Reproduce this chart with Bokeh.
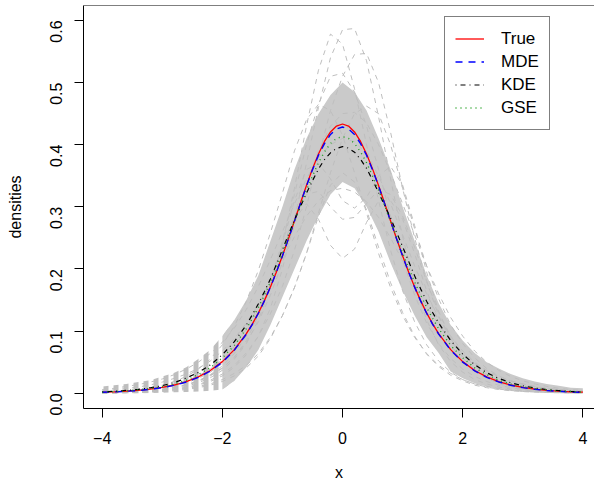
from bokeh.plotting import figure
from bokeh.models import Range1d, Legend, LegendItem, Span, FixedTicker
from bokeh.embed import file_html
from bokeh.resources import INLINE
import math

# grid of evaluation points for the simulated (gray) estimates
xs = [-4.0, -3.8, -3.6, -3.4, -3.2, -3.0, -2.8, -2.6, -2.4, -2.2, -2.0, -1.8, -1.6, -1.4, -1.2,
      -1.0, -0.8, -0.6, -0.4, -0.2, 0.0, 0.2, 0.4, 0.6, 0.8, 1.0, 1.2, 1.4, 1.6, 1.8, 2.0, 2.2,
      2.4, 2.6, 2.8, 3.0, 3.2, 3.4, 3.6, 3.8, 4.0]
# finer grid for the four highlighted curves
xs_main = [-4.0, -3.8, -3.6, -3.4, -3.2, -3.0, -2.8, -2.6, -2.4, -2.2, -2.0, -1.8, -1.6,
           -1.5, -1.4, -1.3, -1.2, -1.1, -1.0, -0.9, -0.8, -0.7, -0.6, -0.5, -0.4, -0.3, -0.2,
           -0.1, 0.0, 0.1, 0.2, 0.3, 0.4, 0.5, 0.6, 0.7, 0.8, 0.9, 1.0, 1.1, 1.2, 1.3, 1.4, 1.5,
           1.6, 1.8, 2.0, 2.2, 2.4, 2.6, 2.8, 3.0, 3.2, 3.4, 3.6, 3.8, 4.0]

true_d = [0.0017, 0.0024, 0.0034, 0.0048, 0.0067, 0.0095, 0.0133, 0.0187, 0.0263, 0.0367, 0.0509,
          0.0702, 0.0959,
          0.1116, 0.1293, 0.1491, 0.1712, 0.1953, 0.2212, 0.2487, 0.2773, 0.3061, 0.3344, 0.3611,
          0.3851, 0.4053, 0.4205, 0.4300, 0.4333, 0.4300, 0.4205, 0.4053, 0.3851, 0.3611, 0.3344,
          0.3061, 0.2773, 0.2487, 0.2212, 0.1953, 0.1712, 0.1491, 0.1293, 0.1116,
          0.0959, 0.0702, 0.0509, 0.0367, 0.0263, 0.0187, 0.0133, 0.0095, 0.0067, 0.0048, 0.0034,
          0.0024, 0.0017]
mde = [0.0016, 0.0022, 0.0032, 0.0045, 0.0064, 0.0091, 0.0128, 0.0181, 0.0256, 0.0358, 0.0500,
       0.0694, 0.0952,
       0.1110, 0.1288, 0.1487, 0.1708, 0.1950, 0.2210, 0.2485, 0.2770, 0.3055, 0.3335, 0.3595,
       0.3830, 0.4018, 0.4165, 0.4253, 0.4285, 0.4253, 0.4165, 0.4018, 0.3830, 0.3595, 0.3335,
       0.3055, 0.2770, 0.2485, 0.2210, 0.1950, 0.1708, 0.1487, 0.1288, 0.1110,
       0.0952, 0.0695, 0.0502, 0.0360, 0.0257, 0.0182, 0.0129, 0.0091, 0.0064, 0.0045, 0.0032,
       0.0022, 0.0016]
kde = [0.0024, 0.0033, 0.0046, 0.0063, 0.0088, 0.0123, 0.0172, 0.0245, 0.0335, 0.0455, 0.0620,
       0.0830, 0.1100,
       0.1265, 0.1440, 0.1635, 0.1840, 0.2075, 0.2310, 0.2550, 0.2790, 0.3005, 0.3220, 0.3420,
       0.3610, 0.3760, 0.3870, 0.3940, 0.3970, 0.3945, 0.3880, 0.3765, 0.3620, 0.3430, 0.3230,
       0.3025, 0.2820, 0.2590, 0.2360, 0.2125, 0.1890, 0.1680, 0.1480, 0.1300,
       0.1130, 0.0850, 0.0630, 0.0460, 0.0330, 0.0240, 0.0170, 0.0120, 0.0085, 0.0060, 0.0043,
       0.0030, 0.0022]
gse = [0.0019, 0.0027, 0.0038, 0.0053, 0.0075, 0.0105, 0.0150, 0.0210, 0.0300, 0.0410, 0.0570,
       0.0770, 0.1040,
       0.1205, 0.1380, 0.1580, 0.1790, 0.2015, 0.2260, 0.2515, 0.2770, 0.3020, 0.3270, 0.3495,
       0.3710, 0.3885, 0.4020, 0.4102, 0.4130, 0.4102, 0.4020, 0.3885, 0.3710, 0.3495, 0.3270,
       0.3020, 0.2770, 0.2515, 0.2260, 0.2015, 0.1790, 0.1580, 0.1380, 0.1205,
       0.1040, 0.0770, 0.0570, 0.0410, 0.0300, 0.0210, 0.0150, 0.0105, 0.0075, 0.0053, 0.0038,
       0.0027, 0.0019]

# dense part of the simulated (gray) estimates: lower / upper envelope
band_lo = [0.0, 0.0, 0.0, 0.0, 0.0005, 0.001, 0.0015, 0.002, 0.003, 0.004, 0.006, 0.020, 0.042,
           0.070, 0.110, 0.155, 0.200, 0.245, 0.285, 0.320, 0.340, 0.330, 0.300, 0.260, 0.210,
           0.165, 0.125, 0.090, 0.065, 0.035, 0.024, 0.016, 0.011, 0.007, 0.005, 0.003, 0.002,
           0.0015, 0.001, 0.0007, 0.0005]
band_hi = [0.011, 0.013, 0.015, 0.018, 0.021, 0.027, 0.033, 0.042, 0.055, 0.070, 0.092, 0.118,
           0.150, 0.190, 0.245, 0.300, 0.360, 0.410, 0.450, 0.480, 0.500, 0.485, 0.455, 0.410,
           0.360, 0.300, 0.245, 0.190, 0.145, 0.110, 0.085, 0.065, 0.050, 0.040, 0.031, 0.024,
           0.019, 0.015, 0.012, 0.009, 0.008]

# individual simulated estimates drawn as dashed lines
sim1 = [0.001, 0.0015, 0.002, 0.003, 0.0045, 0.0065, 0.009, 0.013, 0.019, 0.028, 0.040, 0.058,
        0.085, 0.125, 0.175, 0.230, 0.280, 0.305, 0.280, 0.238, 0.217, 0.232, 0.275, 0.310, 0.310,
        0.280, 0.225, 0.165, 0.115, 0.078, 0.052, 0.035, 0.024, 0.016, 0.011, 0.0075, 0.005,
        0.0035, 0.0025, 0.0017, 0.0012]
sim2 = [0.0005, 0.0008, 0.0012, 0.0018, 0.0027, 0.004, 0.006, 0.009, 0.013, 0.019, 0.028, 0.042,
        0.062, 0.092, 0.137, 0.200, 0.280, 0.370, 0.460, 0.540, 0.585, 0.587, 0.535, 0.445, 0.345,
        0.252, 0.175, 0.118, 0.078, 0.051, 0.034, 0.022, 0.015, 0.010, 0.0068, 0.0046, 0.0031,
        0.0021, 0.0014, 0.001, 0.0007]
sim3 = [0.0007, 0.001, 0.0015, 0.0022, 0.0033, 0.005, 0.0075, 0.011, 0.017, 0.025, 0.037, 0.055,
        0.080, 0.118, 0.170, 0.240, 0.330, 0.430, 0.520, 0.578, 0.562, 0.490, 0.400, 0.310, 0.230,
        0.165, 0.115, 0.078, 0.052, 0.034, 0.022, 0.015, 0.010, 0.0067, 0.0045, 0.003, 0.002,
        0.0014, 0.0009, 0.0006, 0.0004]
sim4 = [0.0006, 0.0009, 0.0013, 0.0019, 0.0028, 0.0042, 0.0063, 0.0094, 0.014, 0.021, 0.031,
        0.045, 0.065, 0.092, 0.128, 0.172, 0.230, 0.300, 0.380, 0.455, 0.510, 0.545, 0.547, 0.500,
        0.420, 0.330, 0.250, 0.180, 0.125, 0.085, 0.057, 0.038, 0.025, 0.017, 0.011, 0.0075,
        0.005, 0.0034, 0.0023, 0.0016, 0.0011]
sim5 = [0.004, 0.0055, 0.0075, 0.010, 0.0135, 0.018, 0.024, 0.031, 0.040, 0.052, 0.068, 0.088,
        0.113, 0.143, 0.178, 0.215, 0.252, 0.285, 0.310, 0.326, 0.330, 0.324, 0.308, 0.283, 0.250,
        0.213, 0.176, 0.141, 0.110, 0.085, 0.064, 0.048, 0.036, 0.027, 0.020, 0.015, 0.011,
        0.008, 0.006, 0.0045, 0.0033]
sim6 = [0.002, 0.003, 0.004, 0.0055, 0.0075, 0.0105, 0.0145, 0.020, 0.028, 0.039, 0.054, 0.075,
        0.103, 0.140, 0.185, 0.235, 0.285, 0.320, 0.325, 0.300, 0.280, 0.283, 0.305, 0.328, 0.320,
        0.285, 0.235, 0.180, 0.130, 0.092, 0.064, 0.044, 0.030, 0.021, 0.0145, 0.010, 0.007,
        0.005, 0.0035, 0.0025, 0.0018]
sim7 = [0.006, 0.008, 0.011, 0.014, 0.018, 0.023, 0.030, 0.039, 0.050, 0.064, 0.082, 0.105,
        0.135, 0.172, 0.215, 0.260, 0.305, 0.345, 0.380, 0.400, 0.410, 0.405, 0.385, 0.350, 0.305,
        0.255, 0.205, 0.160, 0.122, 0.092, 0.068, 0.050, 0.037, 0.027, 0.020, 0.015, 0.011,
        0.008, 0.006, 0.0045, 0.0035]
sim8 = [0.001, 0.0015, 0.002, 0.003, 0.0045, 0.0065, 0.0095, 0.014, 0.020, 0.029, 0.041, 0.058,
        0.082, 0.115, 0.158, 0.210, 0.270, 0.335, 0.390, 0.430, 0.450, 0.452, 0.435, 0.400, 0.355,
        0.305, 0.255, 0.205, 0.160, 0.122, 0.092, 0.068, 0.050, 0.037, 0.027, 0.020, 0.015,
        0.011, 0.008, 0.006, 0.0045]
sim9 = [0.0008, 0.0012, 0.0018, 0.0027, 0.004, 0.006, 0.009, 0.0135, 0.020, 0.030, 0.044, 0.064,
        0.092, 0.130, 0.180, 0.245, 0.320, 0.400, 0.465, 0.510, 0.515, 0.485, 0.430, 0.360, 0.285,
        0.215, 0.158, 0.113, 0.080, 0.056, 0.039, 0.027, 0.019, 0.013, 0.009, 0.0063, 0.0044,
        0.003, 0.0021, 0.0015, 0.001]
sim10 = [0.0003, 0.0005, 0.0008, 0.0012, 0.0018, 0.0027, 0.004, 0.006, 0.009, 0.013, 0.019, 0.028,
         0.041, 0.060, 0.088, 0.125, 0.170, 0.225, 0.285, 0.335, 0.355, 0.340, 0.295, 0.235,
         0.178, 0.130, 0.092, 0.063, 0.043, 0.029, 0.020, 0.013, 0.009, 0.006, 0.004, 0.0027,
         0.0018, 0.0012, 0.0008, 0.0005, 0.0003]
sim11 = [0.0015, 0.002, 0.003, 0.0042, 0.006, 0.0085, 0.012, 0.017, 0.024, 0.034, 0.048, 0.068,
         0.095, 0.130, 0.180, 0.240, 0.310, 0.360, 0.370, 0.345, 0.310, 0.298, 0.315, 0.350,
         0.365, 0.335, 0.270, 0.195, 0.132, 0.088, 0.058, 0.039, 0.026, 0.018, 0.012, 0.0085,
         0.006, 0.0042, 0.003, 0.002, 0.0015]
sim12 = [0.002, 0.003, 0.0043, 0.0062, 0.009, 0.013, 0.019, 0.027, 0.039, 0.055, 0.078, 0.108,
         0.148, 0.198, 0.258, 0.322, 0.390, 0.440, 0.465, 0.455, 0.415, 0.355, 0.290, 0.225,
         0.170, 0.125, 0.090, 0.064, 0.045, 0.032, 0.022, 0.015, 0.011, 0.0075, 0.0052, 0.0036,
         0.0025, 0.0017, 0.0012, 0.0008, 0.0006]
sim13 = [0.0006, 0.0008, 0.0012, 0.0017, 0.0025, 0.0036, 0.0052, 0.0075, 0.011, 0.015, 0.022,
         0.032, 0.045, 0.064, 0.090, 0.125, 0.170, 0.225, 0.290, 0.355, 0.410, 0.450, 0.462,
         0.450, 0.400, 0.330, 0.265, 0.205, 0.152, 0.110, 0.080, 0.057, 0.040, 0.028, 0.020,
         0.014, 0.010, 0.007, 0.005, 0.0035, 0.0025]
sims = [sim1, sim2, sim3, sim4, sim5, sim6, sim7, sim8, sim9, sim10, sim11, sim12, sim13]

x_ticks = [-4, -2, 0, 2, 4]
x_tick_labels = {-4: "\u22124", -2: "\u22122", 0: "0", 2: "2", 4: "4"}
y_ticks = [0.0, 0.1, 0.2, 0.3, 0.4, 0.5, 0.6]

FONT = "Liberation Sans"
GRAY = "#BEBEBE"

p = figure(width=594, height=483, output_backend="svg", toolbar_location=None,
           x_range=Range1d(-4.311, 4.194), y_range=Range1d(-0.0245, 0.6240),
           min_border_left=83, min_border_right=0, min_border_top=5, min_border_bottom=73,
           x_axis_label="x", y_axis_label="densities")
p.outline_line_color = None
p.grid.visible = False
p.background_fill_color = "white"
p.border_fill_color = "white"

# gray simulated estimates
n_tail = 12
p.varea(x=xs[:n_tail], y1=band_lo[:n_tail], y2=band_hi[:n_tail], fill_alpha=0,
        hatch_pattern="|", hatch_color=GRAY, hatch_weight=5, hatch_scale=10)
p.varea(x=xs[10:], y1=band_lo[10:], y2=band_hi[10:], fill_color="#CACACA")
for s in sims:
    p.line(xs, s, line_color=GRAY, line_width=1, line_dash="5 5")

r_true = p.line(xs_main, true_d, line_color="red", line_width=1.3)
r_mde = p.line(xs_main, mde, line_color="blue", line_width=1.4, line_dash="7 6")
r_kde = p.line(xs_main, kde, line_color="black", line_width=1.2, line_dash="1 4 5 4")
r_gse = p.line(xs_main, gse, line_color="#1E9E1E", line_width=1.4, line_dash="1 4")

# box top line
p.add_layout(Span(location=0.6240, dimension="width", line_color="black", line_width=1))

for ax in (p.xaxis[0], p.yaxis[0]):
    ax.axis_line_color = "black"
    ax.axis_line_width = 1
    ax.major_tick_line_color = "black"
    ax.major_tick_out = 9
    ax.major_tick_in = 0
    ax.minor_tick_line_color = None
    ax.major_label_text_font = FONT
    ax.major_label_text_font_size = "16px"
    ax.major_label_text_color = "black"
    ax.axis_label_text_font = FONT
    ax.axis_label_text_font_size = "16px"
    ax.axis_label_text_font_style = "normal"
    ax.axis_label_text_color = "black"

p.xaxis[0].ticker = FixedTicker(ticks=x_ticks)
p.xaxis[0].major_label_overrides = x_tick_labels
p.xaxis[0].major_label_standoff = 14
p.xaxis[0].axis_label_standoff = 17

p.yaxis[0].ticker = FixedTicker(ticks=y_ticks)
p.yaxis[0].major_label_overrides = {t: f"{t:.1f}" for t in y_ticks}
p.yaxis[0].major_label_orientation = math.pi / 2
p.yaxis[0].major_label_standoff = 18
p.yaxis[0].axis_label_standoff = 18

legend = Legend(items=[LegendItem(label="True", renderers=[r_true]),
                       LegendItem(label="MDE", renderers=[r_mde]),
                       LegendItem(label="KDE", renderers=[r_kde]),
                       LegendItem(label="GSE", renderers=[r_gse])],
                location=(361, 278), margin=0, padding=10, spacing=0,
                glyph_width=29, glyph_height=23, label_height=23, label_standoff=17,
                label_text_font=FONT, label_text_font_size="17px", label_text_color="black",
                border_line_color="black", border_line_width=1,
                background_fill_color="white", background_fill_alpha=1)
p.add_layout(legend)

open("out.html", "w").write(file_html(p, INLINE))
